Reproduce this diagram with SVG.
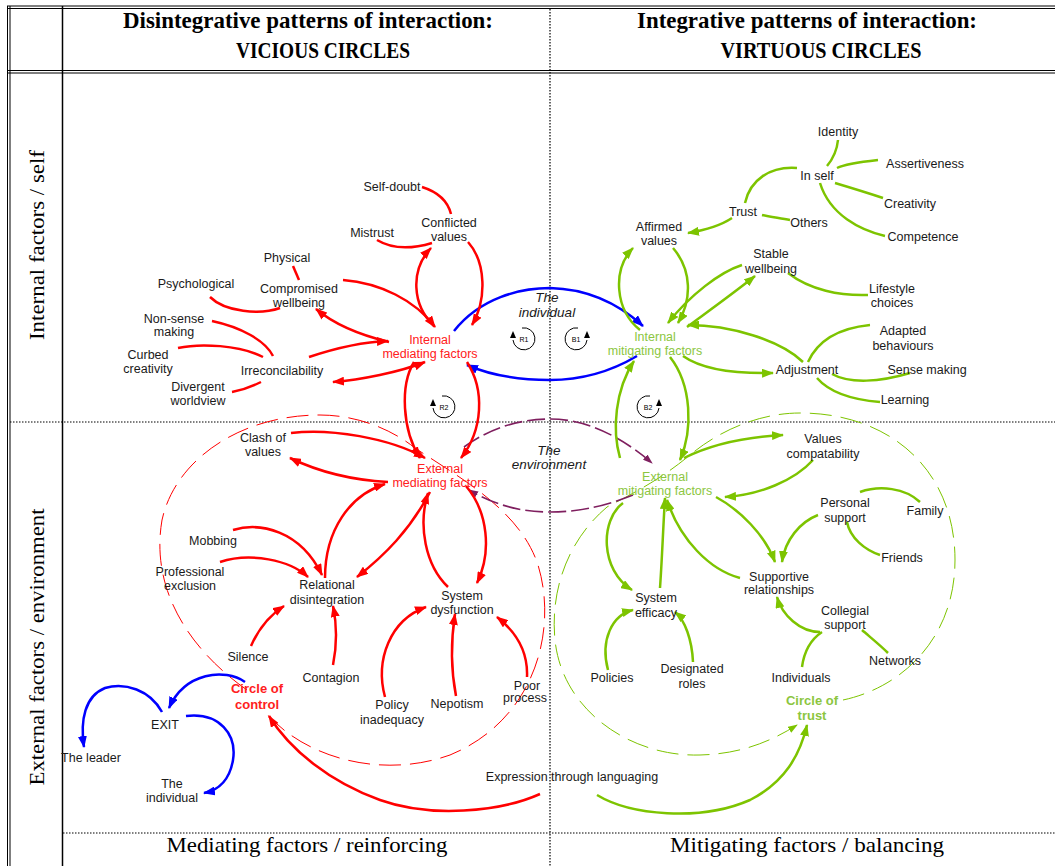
<svg xmlns="http://www.w3.org/2000/svg" width="1055" height="866" viewBox="0 0 1055 866">
  <style>
    .frame { stroke: #000; fill: none; }
    .dot { stroke: #000; stroke-width: 1.2; stroke-dasharray: 1.5 1.5; fill: none; }
    .hd { font-family: "Liberation Serif", serif; font-weight: bold; font-size: 23px; fill: #000; text-anchor: middle; }
    .ax { font-family: "Liberation Serif", serif; font-size: 21px; fill: #000; text-anchor: middle; }
    .lb { font-family: "Liberation Sans", Arial, sans-serif; font-size: 12.5px; fill: #1a1a1a; text-anchor: middle; }
    .red { fill: #ff2020; }
    .grn { fill: #8cc63f; }
    .bold { font-weight: bold; font-size: 13px; }
    .it { font-style: italic; font-size: 13.5px; }
    .lp { font-family: "Liberation Sans", Arial, sans-serif; font-size: 7px; fill: #000; text-anchor: middle; }
    .r { stroke: #ff0000; stroke-width: 2.5; fill: none; }
    .g { stroke: #7dc400; stroke-width: 2.5; fill: none; }
    .b { stroke: #0000ff; stroke-width: 2.5; fill: none; }
    .m { stroke: #7f1f5f; stroke-width: 1.6; fill: none; stroke-dasharray: 18 5; }
    .rd { stroke: #ff0000; stroke-width: 1; fill: none; stroke-dasharray: 22 9; }
    .gd { stroke: #7dc400; stroke-width: 1; fill: none; stroke-dasharray: 22 9; }
    .ra { marker-end: url(#ar); }
    .ga { marker-end: url(#ag); }
    .ba { marker-end: url(#ab); }
    .ma { marker-end: url(#am); }
    .loop { stroke: #000; stroke-width: 1; fill: none; }
  </style>
  <defs>
    <marker id="ar" viewBox="0 0 12 9" refX="11" refY="4.5" markerWidth="12" markerHeight="9" markerUnits="userSpaceOnUse" orient="auto-start-reverse">
      <path d="M0,0 L12,4.5 L0,9 z" fill="#ff0000"/>
    </marker>
    <marker id="ag" viewBox="0 0 12 9" refX="11" refY="4.5" markerWidth="12" markerHeight="9" markerUnits="userSpaceOnUse" orient="auto-start-reverse">
      <path d="M0,0 L12,4.5 L0,9 z" fill="#7dc400"/>
    </marker>
    <marker id="ab" viewBox="0 0 12 9" refX="11" refY="4.5" markerWidth="12" markerHeight="9" markerUnits="userSpaceOnUse" orient="auto-start-reverse">
      <path d="M0,0 L12,4.5 L0,9 z" fill="#0000ff"/>
    </marker>
    <marker id="am" viewBox="0 0 10 7" refX="9" refY="3.5" markerWidth="10" markerHeight="7" markerUnits="userSpaceOnUse" orient="auto">
      <path d="M0,0 L10,3.5 L0,7 z" fill="#7f1f5f"/>
    </marker>
    <marker id="agd" viewBox="0 0 10 7" refX="9" refY="3.5" markerWidth="10" markerHeight="7" markerUnits="userSpaceOnUse" orient="auto">
      <path d="M0,0 L10,3.5 L0,7 z" fill="#7dc400"/>
    </marker>
    <!-- reinforcing / balancing loop icons -->
    <g id="loopR">
      <path class="loop" d="M -2,-11 A 11 11 0 1 1 -11,1"/>
      <path d="M -11,-8 L -14,-1 L -8,-1 z" fill="#000"/>
    </g>
    <g id="loopB">
      <path class="loop" d="M 2,-11 A 11 11 0 1 0 11,1"/>
      <path d="M 11,-8 L 14,-1 L 8,-1 z" fill="#000"/>
    </g>
  </defs>

  <rect width="1055" height="866" fill="#fff"/>

  <!-- table frame -->
  <g id="frame">
    <line class="frame" x1="7" y1="6" x2="1055" y2="6"/>
    <line class="frame" x1="7" y1="8.5" x2="1055" y2="8.5"/>
    <line class="frame" x1="7" y1="70.5" x2="1055" y2="70.5"/>
    <line class="frame" x1="7" y1="73" x2="1055" y2="73"/>
    <line class="frame" x1="7.5" y1="6" x2="7.5" y2="866"/>
    <line class="frame" x1="10" y1="6" x2="10" y2="866"/>
    <line class="frame" x1="62.5" y1="6" x2="62.5" y2="866" stroke-width="1.5"/>
    <line class="dot" x1="550" y1="9" x2="550" y2="866"/>
    <line class="dot" x1="10" y1="422" x2="1055" y2="422"/>
    <line class="dot" x1="63" y1="833" x2="1055" y2="833"/>
  </g>

  <!-- headings -->
  <g id="headings">
    <text class="hd" x="308" y="28" textLength="370" lengthAdjust="spacingAndGlyphs">Disintegrative patterns of interaction:</text>
    <text class="hd" x="323" y="58" textLength="174" lengthAdjust="spacingAndGlyphs">VICIOUS CIRCLES</text>
    <text class="hd" x="807" y="28" textLength="340" lengthAdjust="spacingAndGlyphs">Integrative patterns of interaction:</text>
    <text class="hd" x="821" y="58" textLength="201" lengthAdjust="spacingAndGlyphs">VIRTUOUS CIRCLES</text>
    <text class="ax" transform="translate(44,245) rotate(-90)" textLength="190" lengthAdjust="spacingAndGlyphs">Internal factors / self</text>
    <text class="ax" transform="translate(44,647) rotate(-90)" textLength="277" lengthAdjust="spacingAndGlyphs">External factors / environment</text>
    <text class="ax" x="307" y="852" textLength="281" lengthAdjust="spacingAndGlyphs">Mediating factors / reinforcing</text>
    <text class="ax" x="807" y="852" textLength="274" lengthAdjust="spacingAndGlyphs">Mitigating factors / balancing</text>
  </g>

  <!-- connectors -->
  <g id="connectors">
    <!-- dashed circles of control and trust -->
    <path class="rd" d="M 247,690 C 190,650 150,590 162,520 C 175,460 240,415 320,415 C 355,415 390,428 415,448 C 460,478 520,510 538,565 C 558,630 535,720 450,755 C 380,780 300,757 262,708"/>
    <path class="gd" marker-end="url(#agd)" d="M 843,700 C 900,688 955,640 955,560 C 955,470 890,413 800,413 C 760,413 720,430 690,455 C 660,480 630,495 607,507 C 568,540 550,590 555,640 C 562,710 630,757 700,755 C 740,754 770,742 797,725"/>

    <!-- the environment -->
    <path class="m ma" d="M 464,447 C 490,428 520,419 550,419 C 590,419 625,440 652,463"/>
    <path class="m ma" d="M 633,495 C 600,508 575,512 550,512 C 520,512 495,505 469,490"/>

    <!-- the individual -->
    <path class="b ba" d="M 454,331 C 480,298 520,288 550,288 C 590,289 620,305 643,326"/>
    <path class="b ba" d="M 637,356 C 610,372 580,380 550,380 C 520,380 490,375 467,365"/>

    <!-- internal mediating factors -->
    <path class="r" d="M 422,187 C 438,192 448,202 451,214"/>
    <path class="r" d="M 377,240 C 392,249 412,249 432,243"/>
    <path class="r ra" d="M 434,326 C 412,305 410,270 431,248"/>
    <path class="r ra" d="M 468,242 C 486,262 487,300 472,325"/>
    <path class="r ra" d="M 343,280 C 380,283 415,300 435,327"/>
    <path class="r" d="M 293,266 L 299,280"/>
    <path class="r" d="M 210,297 C 225,312 260,315 280,308"/>
    <path class="r ra" d="M 389,342 C 360,335 335,325 316,309"/>
    <path class="r ra" d="M 309,357 C 330,350 360,342 388,341"/>
    <path class="r ra" marker-start="url(#ar)" d="M 333,382 C 360,380 400,372 425,362"/>
    <path class="r" d="M 212,321 C 240,327 265,340 273,356"/>
    <path class="r" d="M 178,348 C 200,343 240,345 263,357"/>
    <path class="r" d="M 232,392 C 243,390 253,386 261,382"/>
    <path class="r ra" d="M 414,362 C 400,385 402,430 420,458"/>
    <path class="r ra" d="M 467,362 C 485,390 483,430 461,458"/>

    <!-- external mediating factors -->
    <path class="r ra" d="M 291,433 C 330,428 390,438 425,458"/>
    <path class="r ra" d="M 388,482 C 350,480 315,470 290,458"/>
    <path class="r ra" d="M 233,530 C 260,522 300,530 322,575"/>
    <path class="r ra" d="M 220,562 C 250,552 290,560 308,577"/>
    <path class="r ra" d="M 325,578 C 325,530 350,495 385,484"/>
    <path class="r ra" d="M 430,492 C 410,530 385,555 357,577"/>
    <path class="r ra" d="M 448,587 C 425,565 418,525 428,493"/>
    <path class="r ra" d="M 466,486 C 488,512 492,552 477,583"/>
    <path class="r ra" d="M 251,646 C 258,630 270,615 284,606"/>
    <path class="r ra" d="M 333,665 C 337,645 337,625 333,606"/>
    <path class="r ra" d="M 385,697 C 375,660 390,620 426,607"/>
    <path class="r ra" d="M 456,696 C 451,670 451,640 455,614"/>
    <path class="r ra" d="M 527,677 C 528,655 520,635 497,617"/>
    <path class="r ra" d="M 540,794 C 500,812 430,818 380,800 C 330,782 290,750 269,716"/>

    <!-- exit -->
    <path class="b ba" d="M 245,682 C 225,668 185,672 169,708"/>
    <path class="b ba" d="M 162,712 C 150,690 125,682 105,688 C 85,696 80,720 84,747"/>
    <path class="b ba" d="M 186,716 C 220,712 237,735 233,760 C 230,778 220,790 204,793"/>

    <!-- internal mitigating factors -->
    <path class="g" d="M 838,140 C 837,150 832,160 827,166"/>
    <path class="g" d="M 878,160 C 860,162 845,164 837,168"/>
    <path class="g" d="M 883,198 C 865,192 845,186 835,183"/>
    <path class="g" d="M 885,236 C 860,230 830,215 820,183"/>
    <path class="g" d="M 797,168 C 770,166 750,180 745,203"/>
    <path class="g" d="M 790,220 C 780,218 770,217 762,215"/>
    <path class="g ga" d="M 732,218 C 720,226 700,231 688,233"/>
    <path class="g ga" d="M 640,330 C 615,310 612,270 633,248"/>
    <path class="g ga" d="M 673,248 C 692,270 692,300 678,323"/>
    <path class="g ga" d="M 742,265 C 720,272 690,295 668,323"/>
    <path class="g ga" d="M 687,327 C 710,310 735,292 755,276"/>
    <path class="g" d="M 868,295 C 840,296 810,290 788,273"/>
    <path class="g ga" d="M 803,362 C 780,340 730,325 688,325"/>
    <path class="g ga" d="M 683,356 C 700,368 730,374 773,373"/>
    <path class="g" d="M 870,325 C 840,328 818,340 808,362"/>
    <path class="g" d="M 910,373 C 880,382 850,384 832,374"/>
    <path class="g" d="M 880,402 C 855,400 830,393 817,378"/>
    <path class="g ga" d="M 620,458 C 612,430 615,390 634,361"/>
    <path class="g ga" d="M 670,357 C 692,385 693,430 680,460"/>

    <!-- external mitigating factors -->
    <path class="g ga" d="M 684,458 C 710,445 745,437 783,435"/>
    <path class="g ga" d="M 813,460 C 795,480 760,495 725,497"/>
    <path class="g ga" d="M 716,497 C 740,510 765,535 775,562"/>
    <path class="g ga" d="M 818,515 C 800,522 785,540 782,562"/>
    <path class="g" d="M 920,502 C 905,488 880,485 860,492"/>
    <path class="g" d="M 880,555 C 865,550 850,538 847,522"/>
    <path class="g ga" d="M 740,578 C 710,570 680,540 667,500"/>
    <path class="g ga" d="M 660,588 C 662,560 663,530 665,498"/>
    <path class="g ga" d="M 623,503 C 600,520 600,570 632,590"/>
    <path class="g ga" d="M 608,670 C 600,640 612,615 633,610"/>
    <path class="g ga" d="M 693,662 C 692,640 685,620 675,612"/>
    <path class="g ga" d="M 820,632 C 800,632 782,615 777,597"/>
    <path class="g" d="M 802,667 C 804,652 810,640 822,632"/>
    <path class="g" d="M 888,653 C 880,645 870,637 862,630"/>
    <path class="g ga" d="M 597,795 C 630,815 700,822 750,800 C 785,782 800,755 807,725"/>
  </g>

  <!-- loop markers -->
  <g id="loop-R1"><use href="#loopR" x="524" y="339"/><text class="lp" x="524" y="342">R1</text></g>
  <g id="loop-B1"><use href="#loopB" x="576" y="339"/><text class="lp" x="576" y="342">B1</text></g>
  <g id="loop-R2"><use href="#loopR" x="444" y="407"/><text class="lp" x="444" y="410">R2</text></g>
  <g id="loop-B2"><use href="#loopB" x="648" y="407"/><text class="lp" x="648" y="410">B2</text></g>

  <!-- loop titles -->
  <g id="the-individual"><text class="lb it" x="547" y="302">The</text><text class="lb it" x="547" y="317">individual</text></g>
  <g id="the-environment"><text class="lb it" x="549" y="455">The</text><text class="lb it" x="549" y="469">environment</text></g>

  <!-- vicious circles: internal -->
  <g id="internal-mediating"><text class="lb red" x="430" y="343.5">Internal</text><text class="lb red" x="430" y="357.5">mediating factors</text></g>
  <g id="self-doubt"><text class="lb" x="392" y="190.5">Self-doubt</text></g>
  <g id="conflicted-values"><text class="lb" x="449" y="226.5">Conflicted</text><text class="lb" x="449" y="240.5">values</text></g>
  <g id="mistrust"><text class="lb" x="372" y="236.5">Mistrust</text></g>
  <g id="physical"><text class="lb" x="287" y="261.5">Physical</text></g>
  <g id="psychological"><text class="lb" x="196" y="287.5">Psychological</text></g>
  <g id="compromised-wellbeing"><text class="lb" x="299" y="292.5">Compromised</text><text class="lb" x="299" y="306.5">wellbeing</text></g>
  <g id="non-sense-making"><text class="lb" x="174" y="322.5">Non-sense</text><text class="lb" x="174" y="335.5">making</text></g>
  <g id="curbed-creativity"><text class="lb" x="148" y="358.5">Curbed</text><text class="lb" x="148" y="372.5">creativity</text></g>
  <g id="irreconcilability"><text class="lb" x="282" y="374.5">Irreconcilability</text></g>
  <g id="divergent-worldview"><text class="lb" x="198" y="390.5">Divergent</text><text class="lb" x="198" y="404.5">worldview</text></g>

  <!-- vicious circles: external -->
  <g id="external-mediating"><text class="lb red" x="440" y="472.5">External</text><text class="lb red" x="440" y="486.5">mediating factors</text></g>
  <g id="clash-of-values"><text class="lb" x="263" y="441.5">Clash of</text><text class="lb" x="263" y="455.5">values</text></g>
  <g id="mobbing"><text class="lb" x="213" y="544.5">Mobbing</text></g>
  <g id="professional-exclusion"><text class="lb" x="190" y="575.5">Professional</text><text class="lb" x="190" y="589.5">exclusion</text></g>
  <g id="relational-disintegration"><text class="lb" x="327" y="588.5">Relational</text><text class="lb" x="327" y="603.5">disintegration</text></g>
  <g id="system-dysfunction"><text class="lb" x="462" y="599.5">System</text><text class="lb" x="462" y="613.5">dysfunction</text></g>
  <g id="silence"><text class="lb" x="248" y="660.5">Silence</text></g>
  <g id="contagion"><text class="lb" x="331" y="681.5">Contagion</text></g>
  <g id="policy-inadequacy"><text class="lb" x="392" y="708.5">Policy</text><text class="lb" x="392" y="723.5">inadequacy</text></g>
  <g id="nepotism"><text class="lb" x="457" y="707.5">Nepotism</text></g>
  <g id="poor-process"><text class="lb" x="527" y="689.5">Poor</text><text class="lb" x="525" y="701.5">process</text></g>
  <g id="circle-of-control"><text class="lb red bold" x="257" y="692.5">Circle of</text><text class="lb red bold" x="257" y="708.5">control</text></g>
  <g id="exit"><text class="lb" x="165" y="729" font-size="14px">EXIT</text></g>
  <g id="the-leader"><text class="lb" x="91" y="761.5">The leader</text></g>
  <g id="the-individual-exit"><text class="lb" x="172" y="787.5">The</text><text class="lb" x="172" y="801.5">individual</text></g>
  <g id="expression"><text class="lb" x="572" y="780.5">Expression through languaging</text></g>

  <!-- virtuous circles: internal -->
  <g id="internal-mitigating"><text class="lb grn" x="655" y="340.5">Internal</text><text class="lb grn" x="655" y="354.5">mitigating factors</text></g>
  <g id="identity"><text class="lb" x="838" y="135.5">Identity</text></g>
  <g id="in-self"><text class="lb" x="817" y="179.5">In self</text></g>
  <g id="assertiveness"><text class="lb" x="925" y="167.5">Assertiveness</text></g>
  <g id="creativity"><text class="lb" x="910" y="207.5">Creativity</text></g>
  <g id="competence"><text class="lb" x="923" y="240.5">Competence</text></g>
  <g id="trust"><text class="lb" x="743" y="215.5">Trust</text></g>
  <g id="others"><text class="lb" x="809" y="226.5">Others</text></g>
  <g id="affirmed-values"><text class="lb" x="659" y="230.5">Affirmed</text><text class="lb" x="659" y="244.5">values</text></g>
  <g id="stable-wellbeing"><text class="lb" x="771" y="257.5">Stable</text><text class="lb" x="771" y="272.5">wellbeing</text></g>
  <g id="lifestyle-choices"><text class="lb" x="892" y="292.5">Lifestyle</text><text class="lb" x="892" y="306.5">choices</text></g>
  <g id="adapted-behaviours"><text class="lb" x="903" y="334.5">Adapted</text><text class="lb" x="903" y="349.5">behaviours</text></g>
  <g id="adjustment"><text class="lb" x="807" y="373.5">Adjustment</text></g>
  <g id="sense-making"><text class="lb" x="927" y="373.5">Sense making</text></g>
  <g id="learning"><text class="lb" x="905" y="403.5">Learning</text></g>

  <!-- virtuous circles: external -->
  <g id="external-mitigating"><text class="lb grn" x="665" y="480.5">External</text><text class="lb grn" x="665" y="494.5">mitigating factors</text></g>
  <g id="values-compatability"><text class="lb" x="823" y="442.5">Values</text><text class="lb" x="823" y="457.5">compatability</text></g>
  <g id="personal-support"><text class="lb" x="845" y="506.5">Personal</text><text class="lb" x="845" y="521.5">support</text></g>
  <g id="family"><text class="lb" x="925" y="514.5">Family</text></g>
  <g id="friends"><text class="lb" x="902" y="561.5">Friends</text></g>
  <g id="supportive-relationships"><text class="lb" x="779" y="580.5">Supportive</text><text class="lb" x="779" y="593.5">relationships</text></g>
  <g id="collegial-support"><text class="lb" x="845" y="614.5">Collegial</text><text class="lb" x="845" y="628.5">support</text></g>
  <g id="system-efficacy"><text class="lb" x="656" y="601.5">System</text><text class="lb" x="656" y="616.5">efficacy</text></g>
  <g id="policies"><text class="lb" x="612" y="681.5">Policies</text></g>
  <g id="designated-roles"><text class="lb" x="692" y="672.5">Designated</text><text class="lb" x="692" y="687.5">roles</text></g>
  <g id="individuals"><text class="lb" x="801" y="681.5">Individuals</text></g>
  <g id="networks"><text class="lb" x="895" y="664.5">Networks</text></g>
  <g id="circle-of-trust"><text class="lb grn bold" x="812" y="704.5">Circle of</text><text class="lb grn bold" x="812" y="719.5">trust</text></g>
</svg>
